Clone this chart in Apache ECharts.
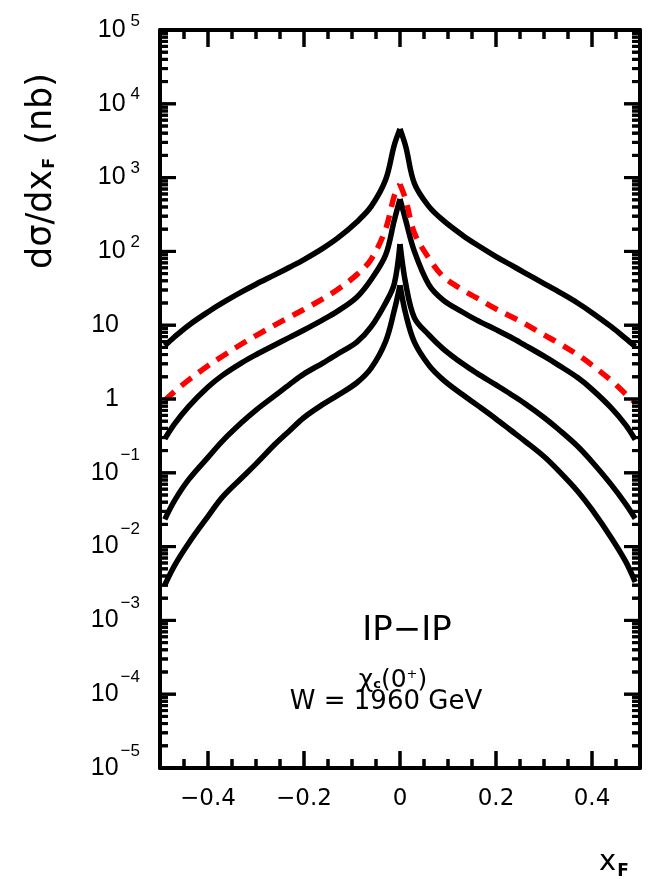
<!DOCTYPE html>
<html>
<head>
<meta charset="utf-8">
<script src="https://cdn.jsdelivr.net/npm/echarts@6/dist/echarts.min.js"></script>
<style>
html,body{margin:0;padding:0;background:#fff;}
#chart{width:657px;height:879px;}
</style>
</head>
<body>
<div id="chart"></div>
<script>
// ---- data ----
const xF = [-0.49,-0.47,-0.44,-0.40,-0.37,-0.33,-0.30,-0.26,-0.23,-0.20,-0.16,-0.13,-0.09,-0.06,-0.03,-0.012,0,0.012,0.03,0.06,0.09,0.13,0.16,0.20,0.23,0.26,0.30,0.33,0.37,0.40,0.44,0.47,0.49];

const curveA   = [5.25,6.92,10,15.1,20.0,28.2,35.9,48.4,61.0,77.6,111,151,251,407,933,2750,4570,2630,832,407,263,166,123,85.1,66.1,51.3,36.7,28.5,20.0,14.8,9.55,6.61,5.13];
const curveRed = [0.955,1.26,1.82,2.82,3.80,5.56,7.24,10.1,12.9,16.4,22.9,30.5,48.4,78.5,200,562,813,501,178,81.3,45.7,30.2,23.4,16.6,13.2,10.5,7.41,5.75,3.98,2.88,1.78,1.17,0.891];
const curveB   = [0.288,0.457,0.794,1.45,2.09,3.09,3.98,5.43,6.84,8.61,11.9,15.5,24.0,41.7,89.1,263,513,263,100,35.5,21.9,15.1,11.7,8.71,6.92,5.37,3.80,2.88,1.95,1.35,0.759,0.447,0.282];
const curveC   = [0.0234,0.0417,0.0813,0.162,0.269,0.479,0.708,1.12,1.58,2.19,3.09,4.07,5.89,9.55,20.0,36.3,126,36.3,12.6,7.41,4.79,3.02,2.24,1.55,1.17,0.871,0.562,0.389,0.229,0.141,0.0692,0.038,0.024];
const curveD   = [0.00302,0.0055,0.0112,0.0257,0.0468,0.0851,0.132,0.245,0.372,0.562,0.851,1.12,1.66,2.63,6.03,15.8,34.7,14.1,5.89,2.88,1.82,1.15,0.832,0.537,0.38,0.269,0.166,0.107,0.0562,0.0316,0.0132,0.0063,0.00331];

const xLabelTicks = [-0.4,-0.2,0,0.2,0.4];
const xShortTicks = [-0.45,-0.35,-0.3,-0.25,-0.15,-0.1,-0.05,0.05,0.1,0.15,0.25,0.3,0.35,0.45];
const yLabelTicks = [1e-5,1e-4,1e-3,1e-2,1e-1,1,10,1e2,1e3,1e4,1e5];
const yMinorMultipliers = [2,3,4,5,6,7,8,9];

// ---- chart ----
const BLACK = '#000';
const frame = {color: BLACK, width: 4};
const X_MIN = -0.5, X_MAX = 0.5, Y_MIN = 1e-5, Y_MAX = 1e5;

function yLabel(v) {
  const e = Math.round(Math.log10(v));
  if (e === 0) return '{b|1}{sp| }';
  if (e === 1) return '{b|10}{sp| }';
  if (e < 0) return '{b|10}{n|\u2212' + (-e) + '}';
  return '{b|10}{p|' + e + '}';
}

// ---- tick marks on all four sides: [x, y, length, kind(0 = x tick, 1 = y tick)] ----
const tickData = [];
xLabelTicks.forEach(v => tickData.push([v, Y_MIN, 17, 0]));
xShortTicks.forEach(v => tickData.push([v, Y_MIN, 9, 0]));
yLabelTicks.slice(1, -1).forEach(v => tickData.push([X_MIN, v, 16, 1]));
yLabelTicks.slice(0, -1).forEach(d => yMinorMultipliers.forEach(m => tickData.push([X_MIN, m * d, 8, 1])));
const tickStyle = {stroke: BLACK, lineWidth: 3};

function tickLines(kind, v, len, toPx) {
  if (kind === 0) {
    const b = toPx([v, Y_MIN]), t = toPx([v, Y_MAX]);
    return [[b[0], b[1], b[0], b[1] - len], [t[0], t[1], t[0], t[1] + len]];
  }
  const l = toPx([X_MIN, v]), r = toPx([X_MAX, v]);
  return [[l[0], l[1], l[0] + len, l[1]], [r[0], r[1], r[0] - len, r[1]]];
}
function renderTick(params, api) {
  const kind = api.value(3), len = api.value(2);
  const v = kind === 0 ? api.value(0) : api.value(1);
  return {type: 'group', children: tickLines(kind, v, len, p => api.coord(p)).map(s => ({
    type: 'line', shape: {x1: s[0], y1: s[1], x2: s[2], y2: s[3]}, style: tickStyle}))};
}

// each curve drawn as its two flanks so the cusp at xF = 0 stays sharp
const peak = xF.indexOf(0);
const flank = (arr, side) => xF.map((x, i) => [x, arr[i]]).filter((p, i) => side < 0 ? i <= peak : i >= peak);
const series = [];
function addCurve(name, arr, color, dashed, z) {
  [-1, 1].forEach(side => series.push({
    name, type: 'line', xAxisIndex: 0, yAxisIndex: 0, data: flank(arr, side),
    symbol: 'none', showSymbol: false, clip: true, z, smooth: 0.35,
    lineStyle: {color, width: 5.5, type: dashed ? [13, 9] : 'solid', cap: 'butt', join: 'miter'},
    emphasis: {disabled: true}
  }));
}
addCurve('A', curveA, BLACK, false, 3);
addCurve('B', curveB, BLACK, false, 3);
addCurve('C', curveC, BLACK, false, 3);
addCurve('D', curveD, BLACK, false, 3);
addCurve('red', curveRed, '#ff0000', true, 4);
series.push({type: 'custom', name: 'ticks', xAxisIndex: 0, yAxisIndex: 0, data: tickData,
  encode: {x: 0, y: 1}, renderItem: renderTick, clip: false, silent: true, z: 6});

const texts = [
  {type: 'text', x: 42, y: 171, rotation: Math.PI / 2, silent: true,
   style: {text: '{a|d\u03c3/dx}{s|F}{a| (nb)}', align: 'center', verticalAlign: 'middle',
     rich: {a: {fontFamily: 'DejaVu Sans', fontSize: 35, fill: BLACK},
            s: {fontFamily: 'DejaVu Sans', fontSize: 16, fontWeight: 'bold', fill: BLACK, padding: [15, 2, 0, 1]}}}},
  {type: 'text', x: 614, y: 862, silent: true,
   style: {text: '{a|x}{s|F}', align: 'center', verticalAlign: 'middle',
     rich: {a: {fontFamily: 'DejaVu Sans', fontSize: 29, fill: BLACK},
            s: {fontFamily: 'DejaVu Sans', fontSize: 17, fontWeight: 'bold', fill: BLACK, padding: [20, 0, 0, 1]}}}},
  {type: 'text', x: 407, y: 631, silent: true,
   style: {text: 'IP\u2212IP', align: 'center', verticalAlign: 'middle',
     fontFamily: 'DejaVu Sans', fontSize: 34, fill: BLACK}},
  {type: 'text', x: 393, y: 680, silent: true,
   style: {text: '{a|\u03c7}{c|c}{a|(0}{p|+}{a|)}', align: 'center', verticalAlign: 'middle',
     rich: {a: {fontFamily: 'DejaVu Sans', fontSize: 25, fill: BLACK},
            c: {fontFamily: 'DejaVu Sans', fontSize: 13, fontWeight: 'bold', fill: BLACK, padding: [9, 0, 0, 0]},
            p: {fontFamily: 'DejaVu Sans', fontSize: 13, fill: BLACK, padding: [0, 0, 11, 0]}}}},
  {type: 'text', x: 386, y: 702, silent: true,
   style: {text: 'W = 1960 GeV', align: 'center', verticalAlign: 'middle',
     fontFamily: 'DejaVu Sans', fontSize: 26, fill: BLACK}}
];

const chart = echarts.init(document.getElementById('chart'), null, {renderer: 'canvas'});
chart.setOption({
  backgroundColor: '#fff',
  animation: false,
  grid: {left: 160, right: 17, top: 30, bottom: 111},
  xAxis: [
    {type: 'value', position: 'bottom', min: X_MIN, max: X_MAX,
     axisLine: {show: true, onZero: false, lineStyle: frame}, axisTick: {show: false},
     axisLabel: {show: true, customValues: xLabelTicks, margin: 20, color: BLACK,
       fontFamily: 'DejaVu Sans', fontSize: 23,
       formatter: v => (Math.abs(v) < 1e-9 ? '0' : v.toFixed(1).replace('-', '\u2212'))},
     splitLine: {show: false}},
    {type: 'value', position: 'top', min: X_MIN, max: X_MAX,
     axisLine: {show: true, onZero: false, lineStyle: frame}, axisTick: {show: false},
     axisLabel: {show: false}, splitLine: {show: false}}
  ],
  yAxis: [
    {type: 'log', logBase: 10, position: 'left', min: Y_MIN, max: Y_MAX,
     axisLine: {show: true, onZero: false, lineStyle: frame}, axisTick: {show: false},
     axisLabel: {show: true, customValues: yLabelTicks, margin: 20, color: BLACK, formatter: yLabel,
       rich: {
         b: {fontFamily: 'Liberation Sans', fontSize: 25, lineHeight: 26, color: BLACK},
         p: {fontFamily: 'Liberation Sans', fontSize: 17, lineHeight: 17, color: BLACK, padding: [0, 0, 18, 5]},
         n: {fontFamily: 'Liberation Sans', fontSize: 17, lineHeight: 17, color: BLACK, padding: [0, 0, 34, 2]},
         sp: {fontSize: 17, width: 21}
       }},
     splitLine: {show: false}, minorTick: {show: false}},
    {type: 'log', logBase: 10, position: 'right', min: Y_MIN, max: Y_MAX,
     axisLine: {show: true, onZero: false, lineStyle: frame}, axisTick: {show: false},
     axisLabel: {show: false}, splitLine: {show: false}}
  ],
  series,
  graphic: texts
});

// the same tick marks again as graphic lines (placed through the chart's own scales)
const toPx = p => chart.convertToPixel({xAxisIndex: 0, yAxisIndex: 0}, p);
const tickEls = [];
tickData.forEach(t => tickLines(t[3], t[3] === 0 ? t[0] : t[1], t[2], toPx).forEach(s =>
  tickEls.push({type: 'line', silent: true, z: 50, shape: {x1: s[0], y1: s[1], x2: s[2], y2: s[3]}, style: tickStyle})));
chart.setOption({graphic: texts.concat(tickEls)});
chart.getZr().flush();
</script>
</body>
</html>
